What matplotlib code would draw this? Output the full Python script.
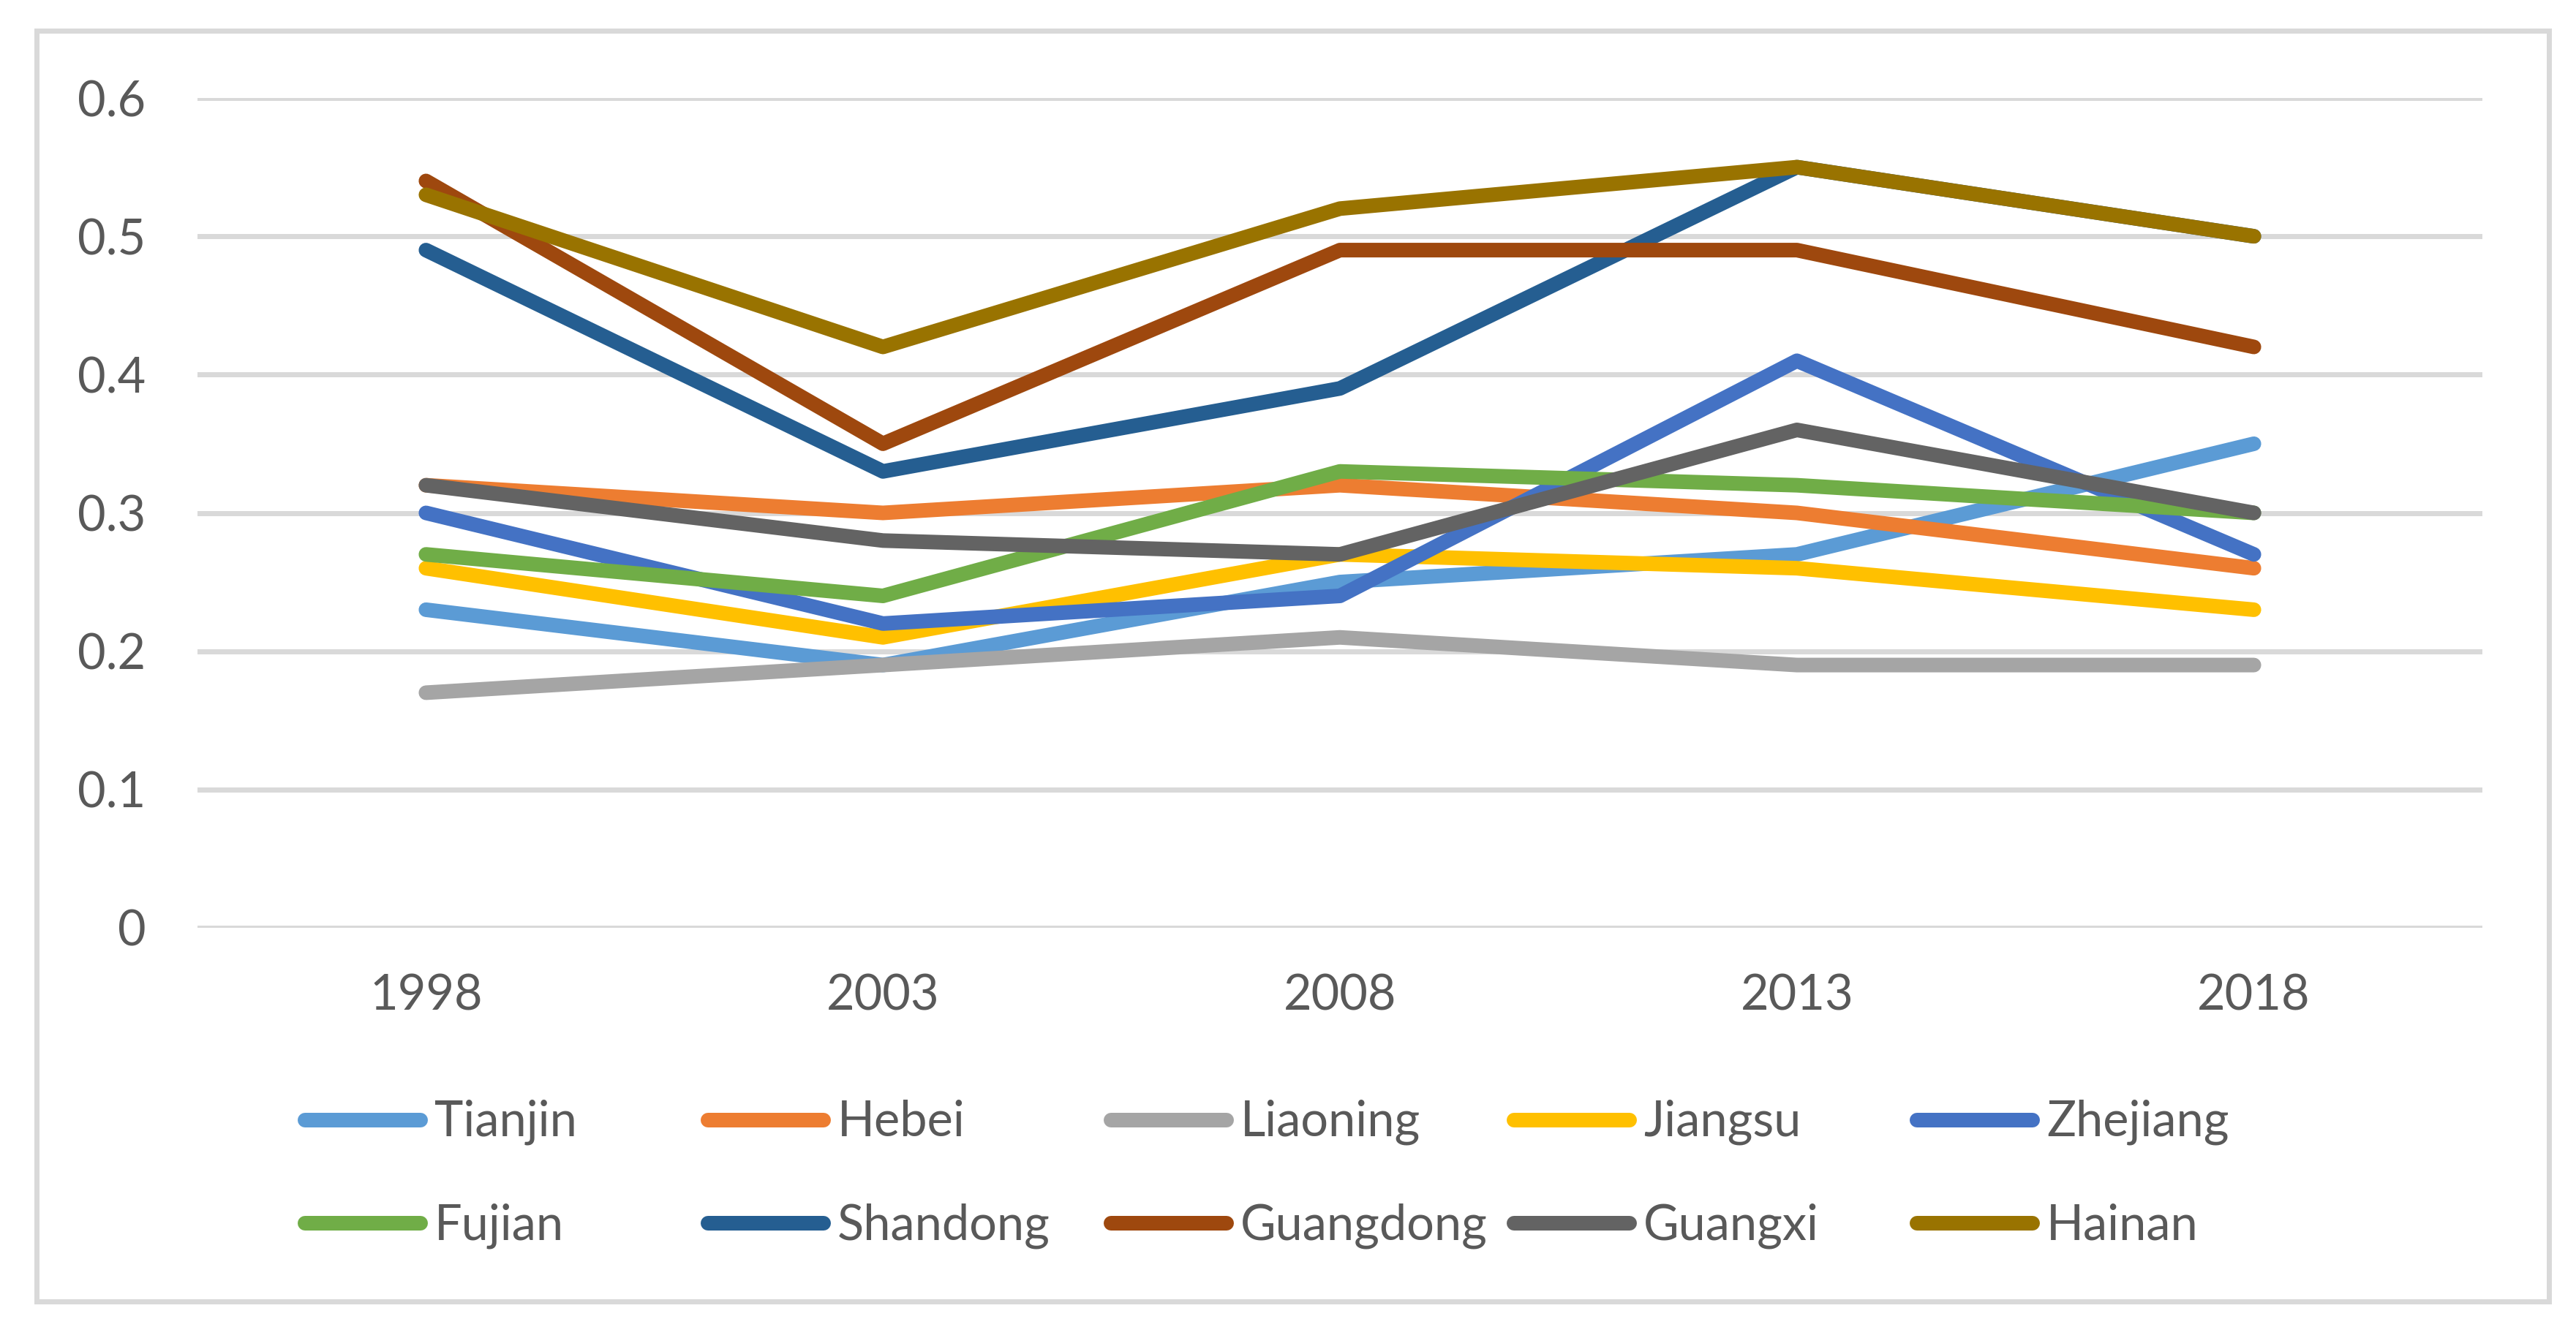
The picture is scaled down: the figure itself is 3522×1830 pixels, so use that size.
import matplotlib
matplotlib.use("Agg")
import matplotlib.pyplot as plt
from matplotlib.lines import Line2D
from matplotlib.patches import Rectangle

years = ["1998", "2003", "2008", "2013", "2018"]
yticks = [0, 0.1, 0.2, 0.3, 0.4, 0.5, 0.6]
ytick_labels = ["0", "0.1", "0.2", "0.3", "0.4", "0.5", "0.6"]

tianjin = [0.23, 0.19, 0.25, 0.27, 0.35]
hebei = [0.32, 0.30, 0.32, 0.30, 0.26]
liaoning = [0.17, 0.19, 0.21, 0.19, 0.19]
jiangsu = [0.26, 0.21, 0.27, 0.26, 0.23]
zhejiang = [0.30, 0.22, 0.24, 0.41, 0.27]
fujian = [0.27, 0.24, 0.33, 0.32, 0.30]
shandong = [0.49, 0.33, 0.39, 0.55, 0.50]
guangdong = [0.54, 0.35, 0.49, 0.49, 0.42]
guangxi = [0.32, 0.28, 0.27, 0.36, 0.30]
hainan = [0.53, 0.42, 0.52, 0.55, 0.50]

names = ["Tianjin", "Hebei", "Liaoning", "Jiangsu", "Zhejiang",
         "Fujian", "Shandong", "Guangdong", "Guangxi", "Hainan"]
series = [tianjin, hebei, liaoning, jiangsu, zhejiang,
          fujian, shandong, guangdong, guangxi, hainan]
colors = ["#5B9BD5", "#ED7D31", "#A5A5A5", "#FFC000", "#4472C4",
          "#70AD47", "#255E91", "#9E480E", "#636363", "#997300"]

W, H, DPI = 3522, 1830, 300
plt.rcParams['font.family'] = ['Lato', 'DejaVu Sans']
TXT = "#595959"
GRID = "#D9D9D9"
FS = 16
LW = 20 * 72 / DPI

fig = plt.figure(figsize=(W / DPI, H / DPI), dpi=DPI)

def fx(px):
    return px / W

def fy(py):
    return 1 - py / H

# outer chart border
fig.patches.append(Rectangle((fx(50), fy(1780)), fx(3485) - fx(50), fy(42) - fy(1780),
                             transform=fig.transFigure, fill=False,
                             edgecolor=GRID, linewidth=7 * 72 / DPI))

ax = fig.add_axes([fx(270), fy(1269), fx(3394) - fx(270), fy(134) - fy(1269)])
x = list(range(len(years)))
lines = []
for name, vals, c in zip(names, series, colors):
    ln, = ax.plot(x, vals, color=c, lw=LW, solid_capstyle='round',
                  solid_joinstyle='round', label=name, zorder=3)
    lines.append(ln)

ax.set_xlim(-0.5, len(years) - 0.5)
ax.set_ylim(0, 0.6)
ax.set_yticks(yticks)
ax.set_yticklabels(ytick_labels)
ax.set_xticks(x)
ax.set_xticklabels(years)
for s in ax.spines.values():
    s.set_visible(False)
ax.tick_params(axis='both', length=0, labelsize=FS, labelcolor=TXT)
ax.tick_params(axis='y', pad=17)
ax.tick_params(axis='x', pad=15)
ax.yaxis.grid(True, color=GRID, lw=7 * 72 / DPI, zorder=0)
ax.set_axisbelow(True)
ax.patch.set_alpha(0)

# legend (Excel style, uniform columns)
for i, ln in enumerate(lines):
    row, col = divmod(i, 5)
    off = col * 551
    yc = 1532 + row * 141
    fig.add_artist(Line2D([fx(417 + off), fx(575 + off)], [fy(yc), fy(yc)],
                          transform=fig.transFigure,
                          color=ln.get_color(), lw=LW, solid_capstyle='round'))
    fig.text(fx(594 + off), fy(yc + 22), ln.get_label(), fontsize=FS, color=TXT,
             ha='left', va='baseline')

fig.savefig("out.png", dpi=DPI, facecolor="white")
